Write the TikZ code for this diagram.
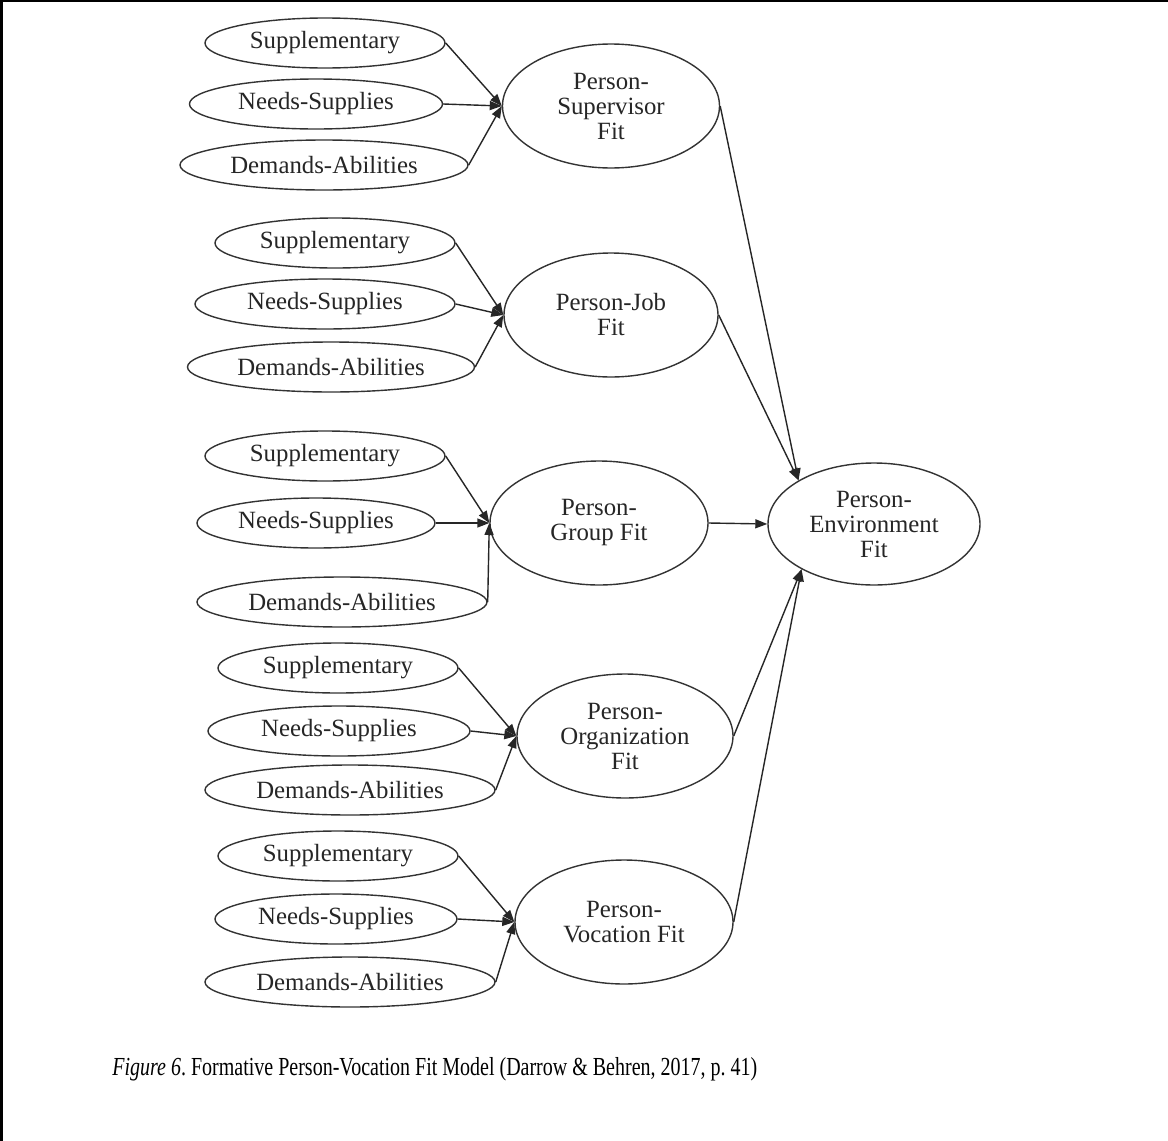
\documentclass[tikz,border=0pt]{standalone}
\usepackage{fontspec}
\setmainfont{Liberation Serif}
\usetikzlibrary{shapes.geometric,arrows.meta}
\frenchspacing
\begin{document}
\begin{tikzpicture}[x=0.5pt,y=-0.5pt,
  oval/.style={ellipse,draw=black!80,line width=0.7pt,inner sep=0pt,
    font=\fontsize{12.4}{12.5}\selectfont,text=black!85,align=center},
  src/.style={oval,minimum height=25pt},
  fitnode/.style={oval,minimum height=62pt},
  link/.style={draw=black!85,line width=0.7pt,-{Triangle[length=6pt,width=4.5pt]}},
  frameline/.style={line width=1.2pt,line join=miter}]
\useasboundingbox (0,0) rectangle (1168,1141);
\fill[white] (0,0) rectangle (1168,1141);
\draw[frameline] (1.5,1141) -- (1.5,1.2) -- (1168,1.2);

% first-order constructs
\node[fitnode,minimum width=108.5pt] (sup) at (611,106) {Person-\\Supervisor\\Fit};
\node[fitnode,minimum width=107pt]   (job) at (611,315) {Person-Job\\Fit};
\node[fitnode,minimum width=109pt]   (grp) at (599,523) {Person-\\Group Fit};
\node[fitnode,minimum width=108pt]   (org) at (625,736) {Person-\\Organization\\Fit};
\node[fitnode,minimum width=109pt]   (voc) at (624,922) {Person-\\Vocation Fit};

% second-order construct
\node[oval,minimum width=106pt,minimum height=61pt] (pe) at (874,524) {Person-\\Environment\\Fit};

% indicators: supervisor
\node[src,minimum width=120pt]   (s1) at (325,43)  {Supplementary};
\node[src,minimum width=126.5pt] (n1) at (316,104) {Needs-Supplies};
\node[src,minimum width=144pt]   (d1) at (324,165) {Demands-Abilities};
% indicators: job
\node[src,minimum width=120pt]   (s2) at (335,243) {Supplementary};
\node[src,minimum width=130pt]   (n2) at (325,304) {Needs-Supplies};
\node[src,minimum width=143.5pt] (d2) at (331,367) {Demands-Abilities};
% indicators: group
\node[src,minimum width=120pt]   (s3) at (325,456) {Supplementary};
\node[src,minimum width=119pt]   (n3) at (316,523) {Needs-Supplies};
\node[src,minimum width=145pt]   (d3) at (342,602) {Demands-Abilities};
% indicators: organization
\node[src,minimum width=120pt]   (s4) at (338,668) {Supplementary};
\node[src,minimum width=131pt]   (n4) at (339,731) {Needs-Supplies};
\node[src,minimum width=145pt]   (d4) at (350,790) {Demands-Abilities};
% indicators: vocation
\node[src,minimum width=120pt]   (s5) at (338,856) {Supplementary};
\node[src,minimum width=121pt]   (n5) at (336,919) {Needs-Supplies};
\node[src,minimum width=145pt]   (d5) at (350,982) {Demands-Abilities};

% indicator paths
\foreach \g/\s/\n/\d in {sup/s1/n1/d1, job/s2/n2/d2, grp/s3/n3/d3, org/s4/n4/d4, voc/s5/n5/d5}{
  \draw[link] (\s.east) -- (\g.west);
  \draw[link] (\n.east) -- (\g.west);
  \draw[link] (\d.east) -- (\g.west);
}

% paths into person-environment fit
\draw[link] (sup.east) -- (pe.150);
\draw[link] (job.east) -- (pe.150);
\draw[link] (grp.east) -- (pe.west);
\draw[link] (org.east) -- (pe.212);
\draw[link] (voc.east) -- (pe.212);

% caption (narrow, tall setting)
\node[anchor=base west,inner sep=0pt,font=\fontsize{10}{12}\selectfont] (cap) at (112,1075)
  {\scalebox{1}[1.3]{\textit{Figure 6}. Formative Person-Vocation Fit Model (Darrow \& Behren, 2017, p.~41)}};
\end{tikzpicture}
\end{document}
